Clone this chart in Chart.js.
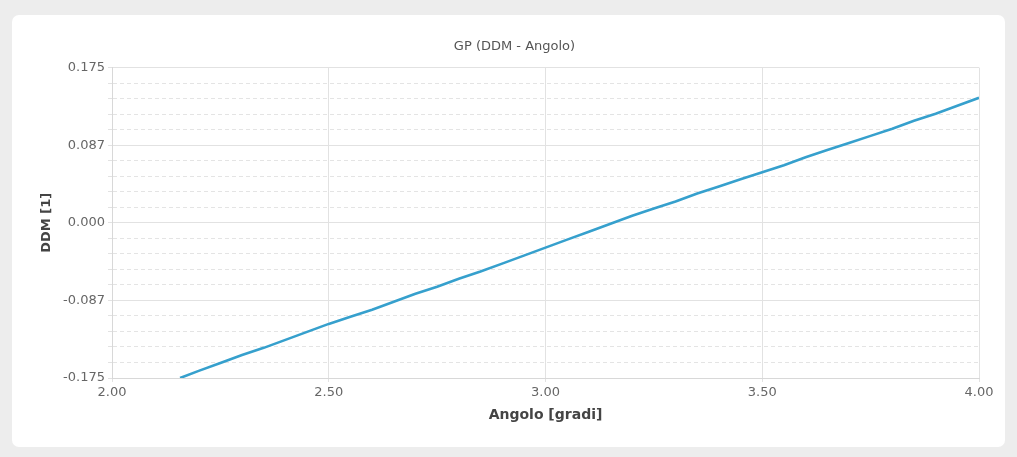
<!DOCTYPE html>
<html>
<head>
<meta charset="utf-8">
<script src="https://cdn.jsdelivr.net/npm/chart.js@4/dist/chart.umd.min.js"></script>
<style>
  html, body { margin: 0; padding: 0; background: #ededed; width: 1017px; height: 457px; overflow: hidden; }
  #card { position: absolute; left: 12px; top: 15px; width: 993px; height: 432px; background: #ffffff; border-radius: 7px; }
  #wrap { position: absolute; left: 11px; top: 0; width: 1006px; height: 457px; }
</style>
</head>
<body>
<div id="card"></div>
<div id="wrap"><canvas id="c" width="1006" height="457"></canvas></div>
<script>
// Angle (degrees) against measured DDM
const angolo = [2.157, 2.20, 2.25, 2.30, 2.35, 2.40, 2.45, 2.50, 2.55, 2.60,
                2.65, 2.70, 2.75, 2.80, 2.85, 2.90, 2.95, 3.00, 3.05, 3.10,
                3.15, 3.20, 3.25, 3.30, 3.35, 3.40, 3.45, 3.50, 3.55, 3.60,
                3.65, 3.70, 3.75, 3.80, 3.85, 3.90, 3.95, 4.00];
const ddm = [-0.175, -0.167, -0.158, -0.149, -0.141, -0.132, -0.123, -0.114, -0.106, -0.098,
             -0.089, -0.080, -0.072, -0.063, -0.055, -0.046, -0.037, -0.028, -0.019, -0.010,
             -0.001,  0.008,  0.016,  0.024,  0.033,  0.041,  0.049,  0.057,  0.065,  0.074,
              0.082,  0.090,  0.098,  0.106,  0.115,  0.123,  0.132,  0.141];

// Y axis: major labelled ticks, each interval split into 5 dashed minor steps
const yMajorLabels = ['-0.175', '-0.087', '0.000', '0.087', '0.175'];
const yMin = -0.175, yMax = 0.175, yMinorPerMajor = 5;
const xTickValues = [2.0, 2.5, 3.0, 3.5, 4.0];

const points = angolo.map((a, i) => ({ x: a, y: ddm[i] }));

new Chart(document.getElementById('c'), {
  type: 'line',
  data: {
    datasets: [{
      label: 'GP',
      data: points,
      borderColor: '#36a0cd',
      borderWidth: 2.6,
      pointRadius: 0,
      tension: 0,
      fill: false
    }]
  },
  options: {
    responsive: false,
    animation: false,
    layout: { padding: { left: 39, right: 38, top: 32, bottom: 19 } },
    plugins: {
      legend: { display: false },
      tooltip: { enabled: false },
      title: {
        display: true,
        text: 'GP (DDM - Angolo)',
        color: '#555555',
        font: { family: 'DejaVu Sans', size: 13, weight: 'normal' },
        padding: { top: 7, bottom: 13 }
      }
    },
    scales: {
      x: {
        type: 'linear',
        min: 2, max: 4,
        afterBuildTicks: (s) => { s.ticks = xTickValues.map(v => ({ value: v })); },
        afterFit: (s) => { s.height = 60; },
        ticks: {
          callback: (v) => Number(v).toFixed(2),
          color: '#666666',
          font: { family: 'DejaVu Sans', size: 13 },
          padding: 3,
          maxRotation: 0
        },
        grid: { color: '#e2e2e2', lineWidth: 1, tickLength: 4, tickColor: '#e2e2e2' },
        border: { color: '#d8d8d8' },
        title: {
          display: true,
          text: 'Angolo [gradi]',
          color: '#444444',
          font: { family: 'DejaVu Sans', size: 14, weight: 'bold' },
          padding: { top: 0, bottom: 14.5 }
        }
      },
      y: {
        type: 'linear',
        min: yMin, max: yMax,
        afterBuildTicks: (s) => {
          const n = (yMajorLabels.length - 1) * yMinorPerMajor;
          const step = (yMax - yMin) / n;
          s.ticks = [];
          for (let i = 0; i <= n; i++) s.ticks.push({ value: yMin + i * step });
        },
        afterFit: (s) => { s.width = 62; },
        ticks: {
          autoSkip: false,
          callback: (v, i) => (i % yMinorPerMajor === 0 ? yMajorLabels[i / yMinorPerMajor] : ''),
          color: '#666666',
          font: { family: 'DejaVu Sans', size: 13 },
          padding: 3
        },
        grid: {
          color: (ctx) => (ctx.index % yMinorPerMajor === 0 ? '#e2e2e2' : '#e4e4e4'),
          lineWidth: 1,
          tickLength: 4,
          tickColor: '#e2e2e2'
        },
        border: {
          color: '#d8d8d8',
          dash: (ctx) => (ctx.index % yMinorPerMajor === 0 ? [] : [4, 3])
        },
        title: {
          display: true,
          text: 'DDM [1]',
          color: '#444444',
          font: { family: 'DejaVu Sans', size: 13, weight: 'bold' },
          padding: { top: -11, bottom: 0 }
        }
      }
    }
  }
});
</script>
</body>
</html>
